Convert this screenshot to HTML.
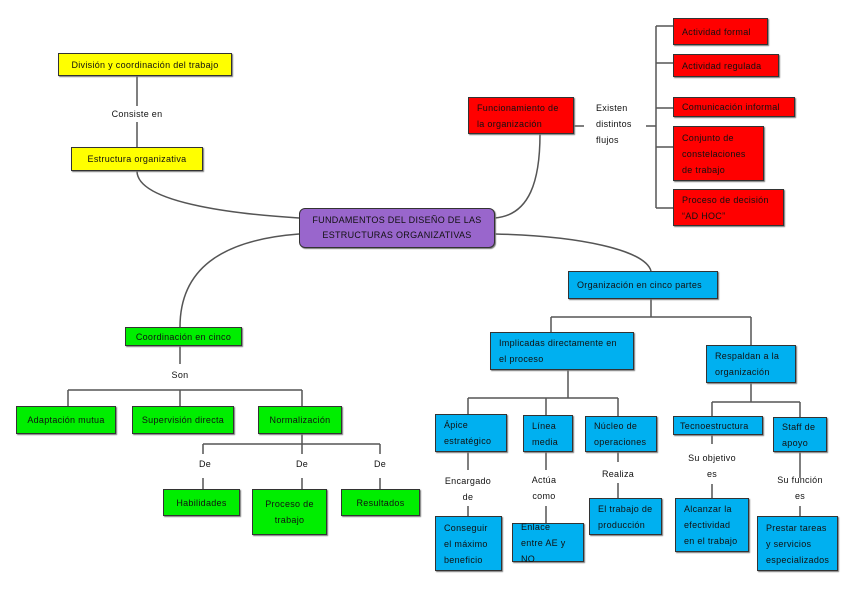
<!DOCTYPE html>
<html><head><meta charset="utf-8"><style>
body{margin:0;width:848px;height:599px;background:#fff;position:relative;overflow:hidden;font-family:"Liberation Sans",sans-serif;font-size:9px;color:#111;letter-spacing:0.3px}
.b{position:absolute;box-sizing:border-box;border:1px solid #333;box-shadow:1px 1px 1px #777;line-height:16px;padding:0 8px;display:flex;align-items:center}
.c{justify-content:center;text-align:center}
.y{background:#ffff00}.r{background:#ff0000}.g{background:#00ee00}.u{background:#00b0f0}
.t{position:absolute;line-height:16px;text-align:center;transform:translateX(-50%);white-space:nowrap}
svg{position:absolute;left:0;top:0}
</style></head><body>
<svg width="848" height="599" fill="none" stroke="#555" stroke-width="1.5">
<path d="M137 171 C137 205 250 215 299 218"/>
<path d="M299 234 C220 240 180 270 180 327"/>
<path d="M495 234 C580 236 645 250 651 271"/>
<path d="M540 134 C540 180 530 215 495 218"/>
<path d="M137 76 V106 M137 122 V147"/>
<path d="M574 126 H584 M646 126 H656 M656 26 V208 M656 26 H673 M656 63 H673 M656 108 H673 M656 147 H673 M656 208 H673"/>
<path d="M651 299 V317 M551 317 H751 M551 317 V332 M751 317 V345"/>
<path d="M568 370 V398 M468 398 H618 M468 398 V414 M546 398 V415 M618 398 V416"/>
<path d="M751 383 V402 M712 402 H800 M712 402 V416 M800 402 V417"/>
<path d="M468 452 V470 M468 506 V516 M546 452 V470 M546 506 V523 M618 452 V462 M618 483 V498 M712 435 V444 M712 484 V498 M800 452 V478 M800 506 V516"/>
<path d="M180 346 V364 M68 390 H302 M68 390 V406 M180 390 V406 M302 390 V406"/>
<path d="M302 434 V444 M203 444 H380 M203 444 V454 M302 444 V454 M380 444 V454 M203 478 V489 M302 478 V489 M380 478 V489"/>
</svg>
<div class="b y c" style="left:58px;top:53px;width:174px;height:23px">División y coordinación del trabajo</div>
<div class="t" style="left:137px;top:106px">Consiste en</div>
<div class="b y c" style="left:71px;top:147px;width:132px;height:24px">Estructura organizativa</div>
<div class="b c" style="left:299px;top:208px;width:196px;height:40px;background:#9966cc;border-radius:6px;line-height:15px">FUNDAMENTOS DEL DISEÑO DE LAS<br>ESTRUCTURAS ORGANIZATIVAS</div>
<div class="b r" style="left:468px;top:97px;width:106px;height:37px">Funcionamiento de la organización</div>
<div style="position:absolute;left:596px;top:100px;line-height:16px">Existen<br>distintos<br>flujos</div>
<div class="b r" style="left:673px;top:18px;width:95px;height:27px">Actividad formal</div>
<div class="b r" style="left:673px;top:54px;width:106px;height:23px">Actividad regulada</div>
<div class="b r" style="left:673px;top:97px;width:122px;height:20px">Comunicación informal</div>
<div class="b r" style="left:673px;top:126px;width:91px;height:55px">Conjunto de constelaciones de trabajo</div>
<div class="b r" style="left:673px;top:189px;width:111px;height:37px">Proceso de decisión “AD HOC”</div>
<div class="b u" style="left:568px;top:271px;width:150px;height:28px">Organización en cinco partes</div>
<div class="b u" style="left:490px;top:332px;width:144px;height:38px">Implicadas directamente en el proceso</div>
<div class="b u" style="left:706px;top:345px;width:90px;height:38px">Respaldan a la organización</div>
<div class="b u" style="left:435px;top:414px;width:72px;height:38px">Ápice estratégico</div>
<div class="b u" style="left:523px;top:415px;width:50px;height:37px">Línea media</div>
<div class="b u" style="left:585px;top:416px;width:72px;height:36px">Núcleo de operaciones</div>
<div class="b u" style="left:673px;top:416px;width:90px;height:19px;padding:0 6px">Tecnoestructura</div>
<div class="b u" style="left:773px;top:417px;width:54px;height:35px">Staff de apoyo</div>
<div class="t" style="left:468px;top:473px">Encargado<br>de</div>
<div class="t" style="left:544px;top:472px">Actúa<br>como</div>
<div class="t" style="left:618px;top:466px">Realiza</div>
<div class="t" style="left:712px;top:450px">Su objetivo<br>es</div>
<div class="t" style="left:800px;top:472px">Su función<br>es</div>
<div class="b u" style="left:435px;top:516px;width:67px;height:55px">Conseguir el máximo beneficio</div>
<div class="b u" style="left:512px;top:523px;width:72px;height:39px">Enlace entre AE y NO</div>
<div class="b u" style="left:589px;top:498px;width:73px;height:37px">El trabajo de producción</div>
<div class="b u" style="left:675px;top:498px;width:74px;height:54px">Alcanzar la efectividad en el trabajo</div>
<div class="b u" style="left:757px;top:516px;width:81px;height:55px">Prestar tareas y servicios especializados</div>
<div class="b g c" style="left:125px;top:327px;width:117px;height:19px">Coordinación en cinco</div>
<div class="t" style="left:180px;top:367px">Son</div>
<div class="b g c" style="left:16px;top:406px;width:100px;height:28px">Adaptación mutua</div>
<div class="b g c" style="left:132px;top:406px;width:102px;height:28px">Supervisión directa</div>
<div class="b g c" style="left:258px;top:406px;width:84px;height:28px">Normalización</div>
<div class="t" style="left:205px;top:456px">De</div>
<div class="t" style="left:302px;top:456px">De</div>
<div class="t" style="left:380px;top:456px">De</div>
<div class="b g c" style="left:163px;top:489px;width:77px;height:27px">Habilidades</div>
<div class="b g c" style="left:252px;top:489px;width:75px;height:46px">Proceso de trabajo</div>
<div class="b g c" style="left:341px;top:489px;width:79px;height:27px">Resultados</div>
</body></html>
